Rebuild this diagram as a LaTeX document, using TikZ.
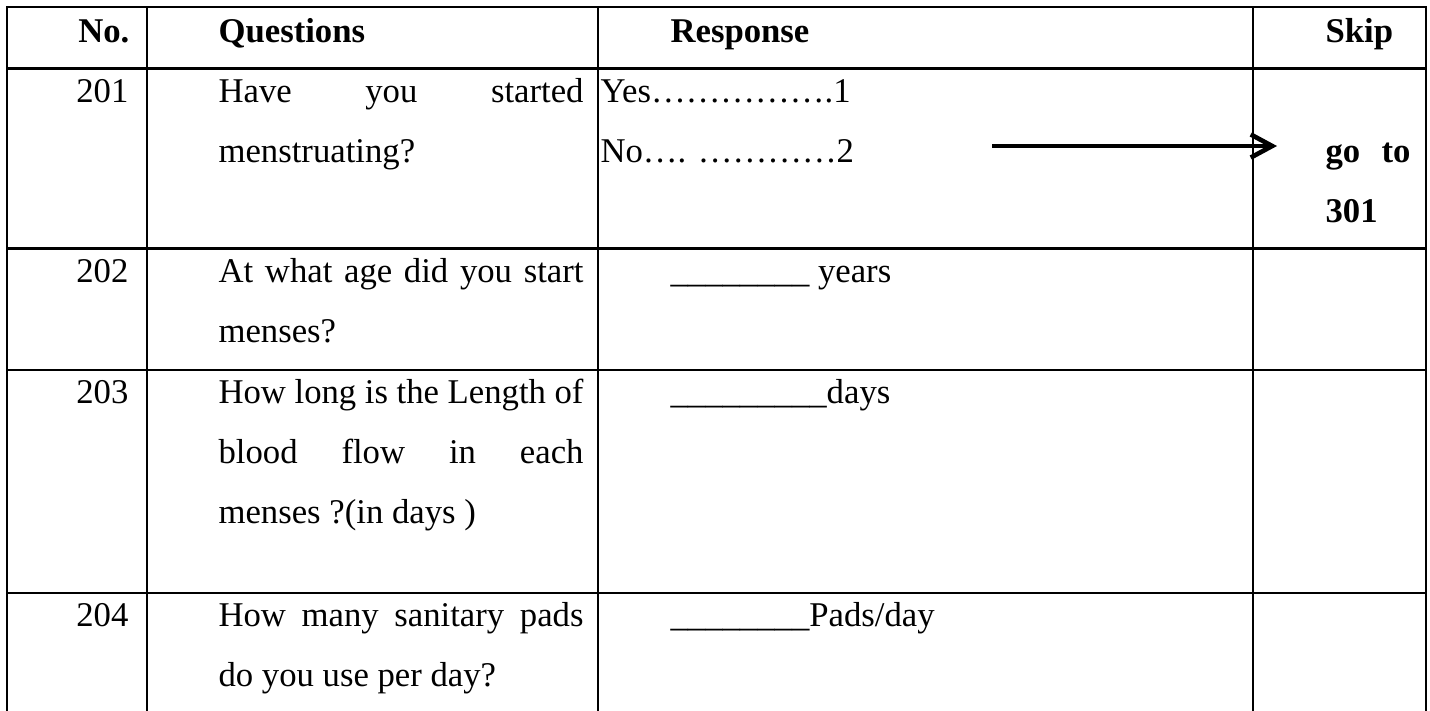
\documentclass[tikz,border=0pt]{standalone}
\usepackage{fontspec}
\setmainfont{Liberation Serif}
\usetikzlibrary{arrows.meta}
\newlength\qcolw \setlength\qcolw{126.2pt}
\newlength\skipw \setlength\skipw{29.4pt}
\begin{document}
\begin{tikzpicture}[x=0.3458pt, y=-0.3458pt,
    grid/.style={line width=0.7pt, line cap=rect},
    cell/.style={anchor=base west, inner sep=0pt, font=\fontsize{12}{14}\selectfont},
    num/.style={anchor=base east, inner sep=0pt, font=\fontsize{12}{14}\selectfont},
    head/.style={cell, font=\fontsize{12}{14}\selectfont\bfseries}]
    \useasboundingbox (0,0) rectangle (1430,710);

    % Table grid
    \foreach \x in {7,147,598,1253,1426}
        \draw[grid] (\x,7) -- (\x,712);
    \foreach \y in {7,68.5,248.5,370,592.5}
        \draw[grid] (7,\y) -- (1426,\y);

    % Header
    \node[num, font=\fontsize{12}{14}\selectfont\bfseries] (hno) at (130,42) {No.};
    \node[head] (hquest) at (218,42) {Questions};
    \node[head] (hresp) at (670,42) {Response};
    \node[head] (hskip) at (1325,42) {Skip};

    % 201
    \node[num] (n201) at (129,102) {201};
    \node[cell] (q201a) at (218,102) {\makebox[\qcolw][s]{Have you started}};
    \node[cell] (q201b) at (218,162) {menstruating?};
    \node[cell] (r201a) at (600,102) {Yes……………{.}1};
    \node[cell] (r201b) at (600,162) {No…. …………2};
    \node[head] (s201a) at (1325,162) {\makebox[\skipw][s]{go to}};
    \node[head] (s201b) at (1325,222) {301};
    \coordinate (arrFrom) at (992,146);
    \coordinate (arrTo) at (1277,146);
    \draw[line width=1.4pt, -{Straight Barb[length=7.4pt, width=8pt, line width=1.6pt]}] (arrFrom) -- (arrTo);

    % 202
    \node[num] (n202) at (129,282) {202};
    \node[cell] (q202a) at (218,282) {\makebox[\qcolw][s]{At what age did you start}};
    \node[cell] (q202b) at (218,342) {menses?};
    \node[cell] (r202) at (670,282) {\_\_\_\_\_\_\_\_ years};

    % 203
    \node[num] (n203) at (129,403) {203};
    \node[cell] (q203a) at (218,403) {\makebox[\qcolw][s]{How long is the Length of}};
    \node[cell] (q203b) at (218,463) {\makebox[\qcolw][s]{blood flow in each}};
    \node[cell] (q203c) at (218,523) {menses ?(in days )};
    \node[cell] (r203) at (670,403) {\_\_\_\_\_\_\_\_\_days};

    % 204
    \node[num] (n204) at (129,626) {204};
    \node[cell] (q204a) at (218,626) {\makebox[\qcolw][s]{How many sanitary pads}};
    \node[cell] (q204b) at (218,686) {do you use per day?};
    \node[cell] (r204) at (670,626) {\_\_\_\_\_\_\_\_Pads/day};
\end{tikzpicture}
\end{document}
